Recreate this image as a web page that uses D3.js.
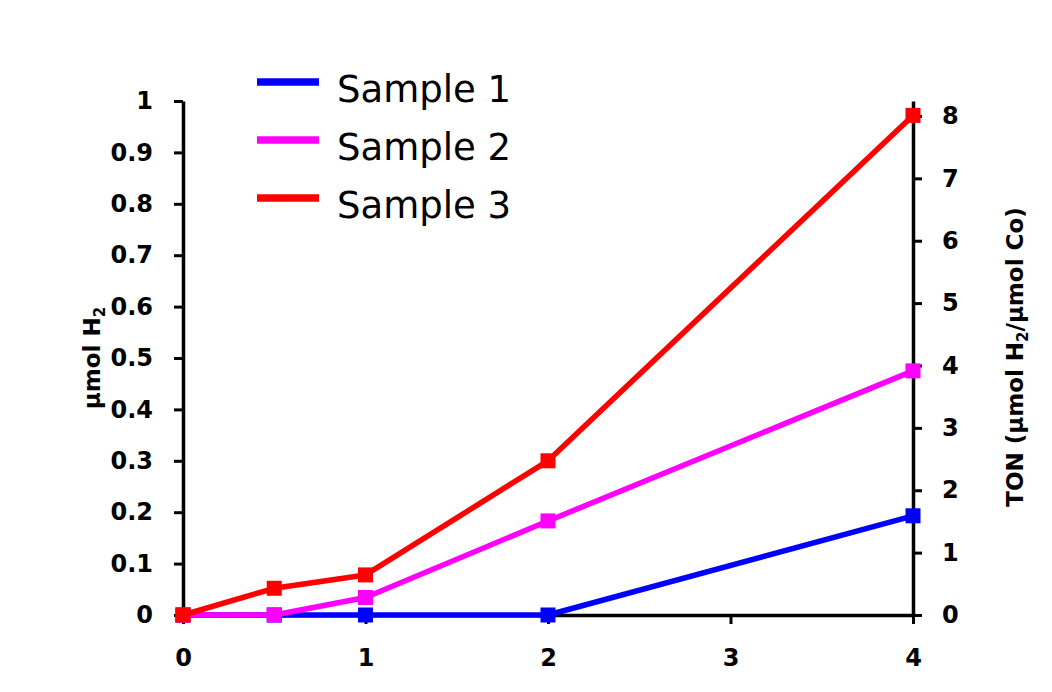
<!DOCTYPE html>
<html>
<head>
<meta charset="utf-8">
<script src="https://cdn.jsdelivr.net/npm/d3@7"></script>
<style>
  body { margin: 0; background: #fff; }
  svg { display: block; }
</style>
</head>
<body>
<div id="chart"></div>
<script>
const width = 1052;
const height = 692;

// data (left axis, µmol H2)
const times = [0, 0.5, 1, 2, 4];
const sample1 = [0, 0, 0, 0, 0.193];
const sample2 = [0, 0, 0.034, 0.183, 0.475];
const sample3 = [0, 0.052, 0.078, 0.30, 0.972];
const seriesNames = ["Sample 1", "Sample 2", "Sample 3"];
const seriesColors = ["#0000ff", "#ff00ff", "#ff0000"];
const leftTicks = [0, 0.1, 0.2, 0.3, 0.4, 0.5, 0.6, 0.7, 0.8, 0.9, 1];
const rightTicks = [0, 1, 2, 3, 4, 5, 6, 7, 8];
const xTicks = [0, 1, 2, 3, 4];

const plot = { left: 183, right: 913, top: 101, bottom: 615 };
const font = "'DejaVu Sans', sans-serif";

const svg = d3.select("#chart")
    .append("svg")
    .attr("width", width)
    .attr("height", height)
    .style("background", "white");

const x = d3.scaleLinear().domain([0, 4]).range([plot.left, plot.right]);
const yLeft = d3.scaleLinear().domain([0, 1]).range([plot.bottom, plot.top]);
// right axis: TON, 8 sits a little below the top of the left scale
const yRight = d3.scaleLinear().domain([0, 8.24]).range([plot.bottom, plot.top]);

function styleAxis(g) {
    g.select(".domain").attr("stroke", "#000").attr("stroke-width", 3.5);
    g.selectAll(".tick line").attr("stroke", "#000").attr("stroke-width", 3);
    g.selectAll("text")
        .attr("fill", "#000")
        .attr("font-family", font)
        .attr("font-weight", "bold")
        .attr("font-size", "24px");
}

svg.append("g")
    .attr("transform", `translate(0,${plot.bottom})`)
    .call(d3.axisBottom(x).tickValues(xTicks).tickSize(9).tickSizeOuter(0).tickPadding(25).tickFormat(d3.format("d")))
    .call(styleAxis);

svg.append("g")
    .attr("transform", `translate(${plot.left},0)`)
    .call(d3.axisLeft(yLeft).tickValues(leftTicks).tickSize(9).tickSizeOuter(0).tickPadding(21).tickFormat(d => d === 0 || d === 1 ? String(d) : d3.format(".1f")(d)))
    .call(styleAxis);

svg.append("g")
    .attr("transform", `translate(${plot.right},0)`)
    .call(d3.axisRight(yRight).tickValues(rightTicks).tickSize(9).tickSizeOuter(0).tickPadding(20).tickFormat(d3.format("d")))
    .call(styleAxis);

// axis titles
const leftTitle = svg.append("text")
    .attr("transform", `translate(100,358) rotate(-90)`)
    .attr("text-anchor", "middle")
    .attr("font-family", font)
    .attr("font-weight", "bold")
    .attr("font-size", "23px");
leftTitle.append("tspan").text("µmol H");
leftTitle.append("tspan").attr("font-size", "15px").attr("dy", 5).text("2");

const rightTitle = svg.append("text")
    .attr("transform", `translate(1023,357) rotate(-90)`)
    .attr("text-anchor", "middle")
    .attr("font-family", font)
    .attr("font-weight", "bold")
    .attr("font-size", "23px");
rightTitle.append("tspan").text("TON (µmol H");
rightTitle.append("tspan").attr("font-size", "15px").attr("dy", 5).text("2");
rightTitle.append("tspan").attr("dy", -5).text("/µmol Co)");

// series
const allSeries = [sample1, sample2, sample3];
const line = d3.line()
    .x((d, i) => x(times[i]))
    .y(d => yLeft(d));

const markerSize = 15;
allSeries.forEach((values, s) => {
    const g = svg.append("g");
    g.append("path")
        .datum(values)
        .attr("d", line)
        .attr("fill", "none")
        .attr("stroke", seriesColors[s])
        .attr("stroke-width", 5.5)
        .attr("stroke-linejoin", "round");
    g.selectAll("rect")
        .data(values)
        .enter()
        .append("rect")
        .attr("x", (d, i) => x(times[i]) - markerSize / 2)
        .attr("y", d => yLeft(d) - markerSize / 2)
        .attr("width", markerSize)
        .attr("height", markerSize)
        .attr("fill", seriesColors[s]);
});

// legend
const legend = svg.append("g").attr("transform", "translate(257,102)");
seriesNames.forEach((name, i) => {
    legend.append("line")
        .attr("x1", 0).attr("x2", 62)
        .attr("y1", i * 58 - 20).attr("y2", i * 58 - 20)
        .attr("stroke", seriesColors[i])
        .attr("stroke-width", 7.5);
    legend.append("text")
        .attr("x", 80)
        .attr("y", i * 58)
        .attr("font-family", font)
        .attr("font-size", "37px")
        .attr("fill", "#000")
        .text(name);
});
</script>
</body>
</html>
